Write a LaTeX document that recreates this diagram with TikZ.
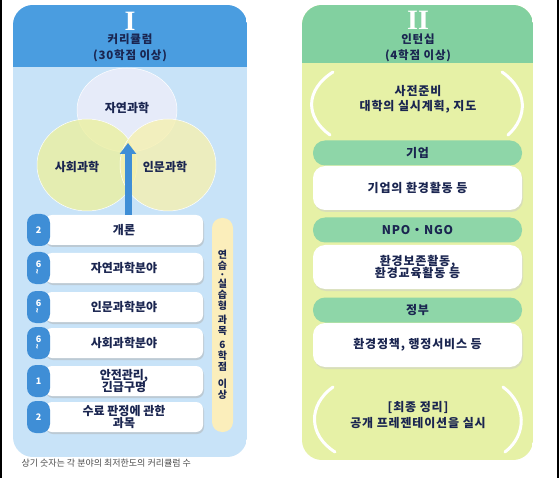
\documentclass[tikz,border=0pt]{standalone}
\usepackage{fontspec}
\usepackage{graphicx}
\setmainfont{Noto Sans CJK KR}
\newfontfamily\widefont[LetterSpace=7]{Noto Sans CJK KR}
\newfontfamily\numeralfont{Liberation Serif}
\usetikzlibrary{shapes.geometric,arrows.meta,shadows,positioning}
\definecolor{headblue}{HTML}{4A9DE0}
\definecolor{bodyblue}{HTML}{C8E3F8}
\definecolor{badgeblue}{HTML}{3F8ED6}
\definecolor{headgreen}{HTML}{82D0A0}
\definecolor{bodygreen}{HTML}{E6F1A6}
\definecolor{pillgreen}{HTML}{8ED6A8}
\definecolor{natfill}{HTML}{EEEEFA}
\definecolor{socfill}{HTML}{ECF0A0}
\definecolor{humfill}{HTML}{F6F0B0}
\definecolor{creamfill}{HTML}{FBEEBB}
\definecolor{inktext}{HTML}{1A2550}
\newcommand{\titlefont}{\widefont\fontsize{11.5}{16}\selectfont\bfseries}
\newcommand{\rowfont}{\fontsize{12}{14}\selectfont\bfseries}
\newcommand{\panelfont}{\widefont\fontsize{12}{14}\selectfont\bfseries}

\begin{document}
\begin{tikzpicture}[x=1pt,y=-1pt]
\tikzset{
rowbox/.style={fill=white, rounded corners=7pt, minimum width=158pt, minimum height=30pt, align=center, text=inktext, font=\rowfont, drop shadow={shadow xshift=1pt, shadow yshift=-2pt, fill=black!30}},
badge/.style={fill=badgeblue, rounded corners=9pt, minimum width=23pt, minimum height=32pt, inner sep=0pt, align=center, text=white, font=\fontsize{9}{8}\selectfont\bfseries},
pill/.style={fill=pillgreen, rounded corners=12pt, minimum width=209pt, minimum height=25pt, text=inktext, font=\panelfont},
infobox/.style={fill=white, rounded corners=12pt, minimum width=209pt, minimum height=44pt, align=center, text=inktext, font=\panelfont, drop shadow={shadow xshift=1pt, shadow yshift=-2pt, fill=black!20}},
paren/.style={draw=white, line width=3pt, line cap=round},
venn/.style={ellipse, fill opacity=0.8, draw=white, line width=0.5pt}
}
\useasboundingbox (0,0) rectangle (559,478);
\fill[white] (0,0) rectangle (559,478);
\fill[black] (0,0) rectangle (2,478);
\fill[black] (557,0) rectangle (559,478);

\begin{scope}
\clip[rounded corners=20pt] (13,5) rectangle (247,457);
\fill[bodyblue] (13,5) rectangle (247,457);
\fill[headblue] (13,5) rectangle (247,67);
\end{scope}
\node (numI) at (130,21) [text=white, font=\numeralfont\bfseries\fontsize{28}{28}\selectfont] {I};
\node (curtitle) at (130,48) [align=center, text=inktext, font=\titlefont] {커리큘럼\\(30학점 이상)};

\node (natsci) at (127,110) [venn, fill=natfill, minimum width=100pt, minimum height=84pt] {};
\node (socsci) at (87,165) [venn, fill=socfill, minimum width=100pt, minimum height=92pt] {};
\node (humsci) at (168,165) [venn, fill=humfill, minimum width=96pt, minimum height=92pt] {};
\node at (127,108) [text=inktext, font=\rowfont] {자연과학};
\node at (77,167) [text=inktext, font=\rowfont] {사회과학};
\node at (165,167) [text=inktext, font=\rowfont] {인문과학};
\coordinate (venntip) at (128,143);

\foreach \y/\num/\txt [count=\i] in {
230/2/개론,
268/6\\[-1pt]\rotatebox{90}{\textasciitilde}/자연과학분야,
307/6\\[-1pt]\rotatebox{90}{\textasciitilde}/인문과학분야,
343/6\\[-1pt]\rotatebox{90}{\textasciitilde}/사회과학분야,
381/1/{안전관리,\\[-2pt]긴급구명},
417/2/{수료 판정에 관한\\[-2pt]과목}}
{
\node (row\i) at (124,\y) [rowbox] {\txt};
\node (badge\i) at (38.5,\y) [badge] {\num};
}
\draw[badgeblue, line width=7pt, -{Triangle[width=16pt,length=11pt]}] ([xshift=4pt]row1.north) -- (venntip);

\node (practice) at (222.5,325) [fill=creamfill, rounded corners=10pt, minimum width=21pt, minimum height=214pt, inner sep=0pt, align=center, text=inktext, font=\fontsize{10}{11}\selectfont\bfseries] {연\\습\\[-2pt]·\\[-2pt]실\\습\\형\\[3pt]과\\목\\[3pt]6\\학\\점\\[6pt]이\\상};

\node (footnote) at (18,463) [anchor=west, text=black!70, font=\fontsize{9}{10}\selectfont] {상기 숫자는 각 분야의 최저한도의 커리큘럼 수};

\begin{scope}
\clip[rounded corners=20pt] (302,5) rectangle (533,460);
\fill[bodygreen] (302,5) rectangle (533,460);
\fill[headgreen] (302,5) rectangle (533,63);
\end{scope}
\node (numII) at (418,20) [text=white, font=\numeralfont\bfseries\fontsize{28}{28}\selectfont] {II};
\node (interntitle) at (418,48) [align=center, text=inktext, font=\titlefont] {인턴십\\(4학점 이상)};

\draw[paren] (333,72) .. controls (305,90) and (305,117) .. (330,135);
\draw[paren] (502,72) .. controls (528,90) and (528,117) .. (508,135);
\node (prep) at (418,99) [align=center, text=inktext, font=\panelfont] {사전준비\\[1pt]대학의 실시계획, 지도};

\node (firm) at (417.5,153) [pill] {기업};
\node (firmtask) at (417.5,188) [infobox] {기업의 환경활동 등};
\node (ngo) at (417.5,230) [pill] {NPO・NGO};
\node (ngotask) at (417.5,267) [infobox] {환경보존활동,\\[-2pt]환경교육활동 등};
\node (gov) at (417.5,310) [pill] {정부};
\node (govtask) at (417.5,345) [infobox] {환경정책, 행정서비스 등};

\draw[paren] (333,387) .. controls (308,405) and (308,435) .. (335,452);
\draw[paren] (503,387) .. controls (527,405) and (527,435) .. (505,452);
\node (final) at (418,415) [align=center, text=inktext, font=\panelfont] {[최종 정리]\\[2pt]공개 프레젠테이션을 실시};
\end{tikzpicture}
\end{document}
